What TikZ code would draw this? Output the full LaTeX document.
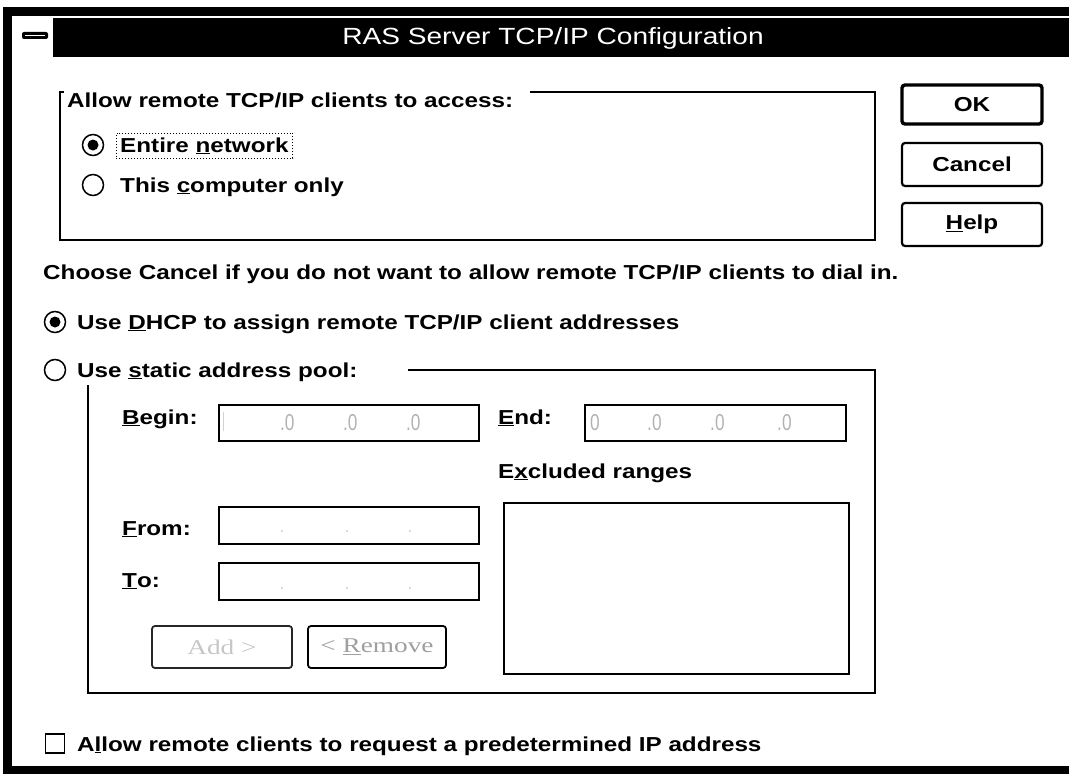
\documentclass[tikz,border=0pt]{standalone}
\usepackage{fontspec}
\setmainfont{Liberation Sans}
\newfontfamily\sysfont[FakeStretch=1.2]{Liberation Sans}
\newfontfamily\serifbtn[FakeStretch=1.3]{Liberation Serif}
\newfontfamily\digitfont[FakeStretch=0.75]{Liberation Sans}
\usetikzlibrary{fit}
\begin{document}
\begin{tikzpicture}[x=1bp,y=-1bp,
  every node/.style={inner sep=0pt},
  sys/.style={font=\sysfont\bfseries\fontsize{20.2bp}{24bp}\selectfont},
  lbl/.style={sys, anchor=base west},
  gline/.style={line width=1.6bp},
  radio/.style={circle, draw, line width=1.5bp, minimum size=21bp},
  field/.style={draw, line width=1.8bp, anchor=north west},
  btn/.style={draw, rounded corners=3bp, line width=2.2bp, sys, minimum width=140bp},
  digit/.style={anchor=base west, text=gray!60, font=\digitfont\fontsize{23bp}{26bp}\selectfont},
  dbtn/.style={draw, rounded corners=3bp, line width=1.8bp, minimum height=42bp,
    font=\serifbtn\fontsize{21bp}{24bp}\selectfont},
]
\useasboundingbox (0,0) rectangle (1069,777);
% window frame
\fill (3,7) rectangle (1069,16);
\fill (3,7) rectangle (12,774);
\fill (3,766) rectangle (1069,774);
\fill (53,18) rectangle (1069,57);
% system menu icon
\fill[rounded corners=2bp] (22,32) rectangle (48,39);
\draw[white, line width=1bp] (25,35.5) -- (45,35.5);
\node[text=white, font=\sysfont\fontsize{23.4bp}{27bp}\selectfont] (title) at (553,38) {RAS Server TCP/IP Configuration};

% group 1
\draw[gline] (64,92) -| (60,240) -| (875,92) -- (530,92);
\node[lbl] (g1t) at (67,107) {Allow remote TCP/IP clients to access:};
\node[radio] (r1) at (93,145) {};
\fill (r1.center) circle (5.5);
\node[lbl] (en) at (120,152) {Entire \underline{n}etwork};
\node[draw, dotted, line width=1bp, fit=(en), inner xsep=4bp, inner ysep=4bp] (focus) {};
\node[radio] (r2) at (93,185) {};
\node[lbl] (tc) at (120,192) {This \underline{c}omputer only};

% buttons
\node[btn, line width=3.4bp, minimum height=39bp] (ok) at (972,104.5) {OK};
\node[btn, minimum height=43bp] (cancel) at (972,164.5) {Cancel};
\node[btn, minimum height=43bp] (help) at (972,224.5) {\underline{H}elp};

\node[lbl] (choose) at (43,279) {Choose Cancel if you do not want to allow remote TCP/IP clients to dial in.};

\node[radio] (r3) at (55,322) {};
\fill (r3.center) circle (5.5);
\node[lbl] (dhcp) at (77,329) {Use \underline{D}HCP to assign remote TCP/IP client addresses};
\node[radio] (r4) at (55,370) {};
\node[lbl] (stat) at (77,377) {Use \underline{s}tatic address pool:};

% group 2
\draw[gline] (408,370) -- (875,370) -- (875,693) -- (88,693) -- (88,385);

\node[lbl] (lbegin) at (122,424) {\underline{B}egin:};
\node[field, minimum width=260bp, minimum height=36bp] (fbegin) at (218,404) {};
\draw[gray!35, line width=1bp] (223,412) -- (223,431);
\node[digit] (b2) at (280,430) {.0};
\node[digit] (b3) at (343,430) {.0};
\node[digit] (b4) at (406,430) {.0};

\node[lbl] (lend) at (498,424) {\underline{E}nd:};
\node[field, minimum width=261bp, minimum height=36bp] (fend) at (584,404) {};
\node[digit] (e1) at (590,430) {0};
\node[digit] (e2) at (647,430) {.0};
\node[digit] (e3) at (710,430) {.0};
\node[digit] (e4) at (777,430) {.0};

\node[lbl] (lexc) at (498,478) {E\underline{x}cluded ranges};
\node[field, minimum width=345bp, minimum height=171bp] (list) at (503,502) {};

\node[lbl] (lfrom) at (122,535) {\underline{F}rom:};
\node[field, minimum width=260bp, minimum height=37bp] (ffrom) at (218,506) {};
\foreach \x in {282,347,410} \fill[gray!60] (\x,531) circle (0.9);
\node[lbl] (lto) at (122,587) {\underline{T}o:};
\node[field, minimum width=260bp, minimum height=37bp] (fto) at (218,562) {};
\foreach \x in {282,347,410} \fill[gray!60] (\x,588) circle (0.9);

\node[dbtn, minimum width=140bp, text=gray!45, draw=black!85] (add) at (222,647) {Add >};
\node[dbtn, minimum width=138bp, text=gray!75] (remove) at (377,647) {< \underline{R}emove};

% checkbox
\node[draw, line width=1.5bp, minimum size=19bp] (cb) at (55,743.5) {};
\node[lbl] (cbt) at (77,751) {A\underline{l}low remote clients to request a predetermined IP address};
\end{tikzpicture}
\end{document}
